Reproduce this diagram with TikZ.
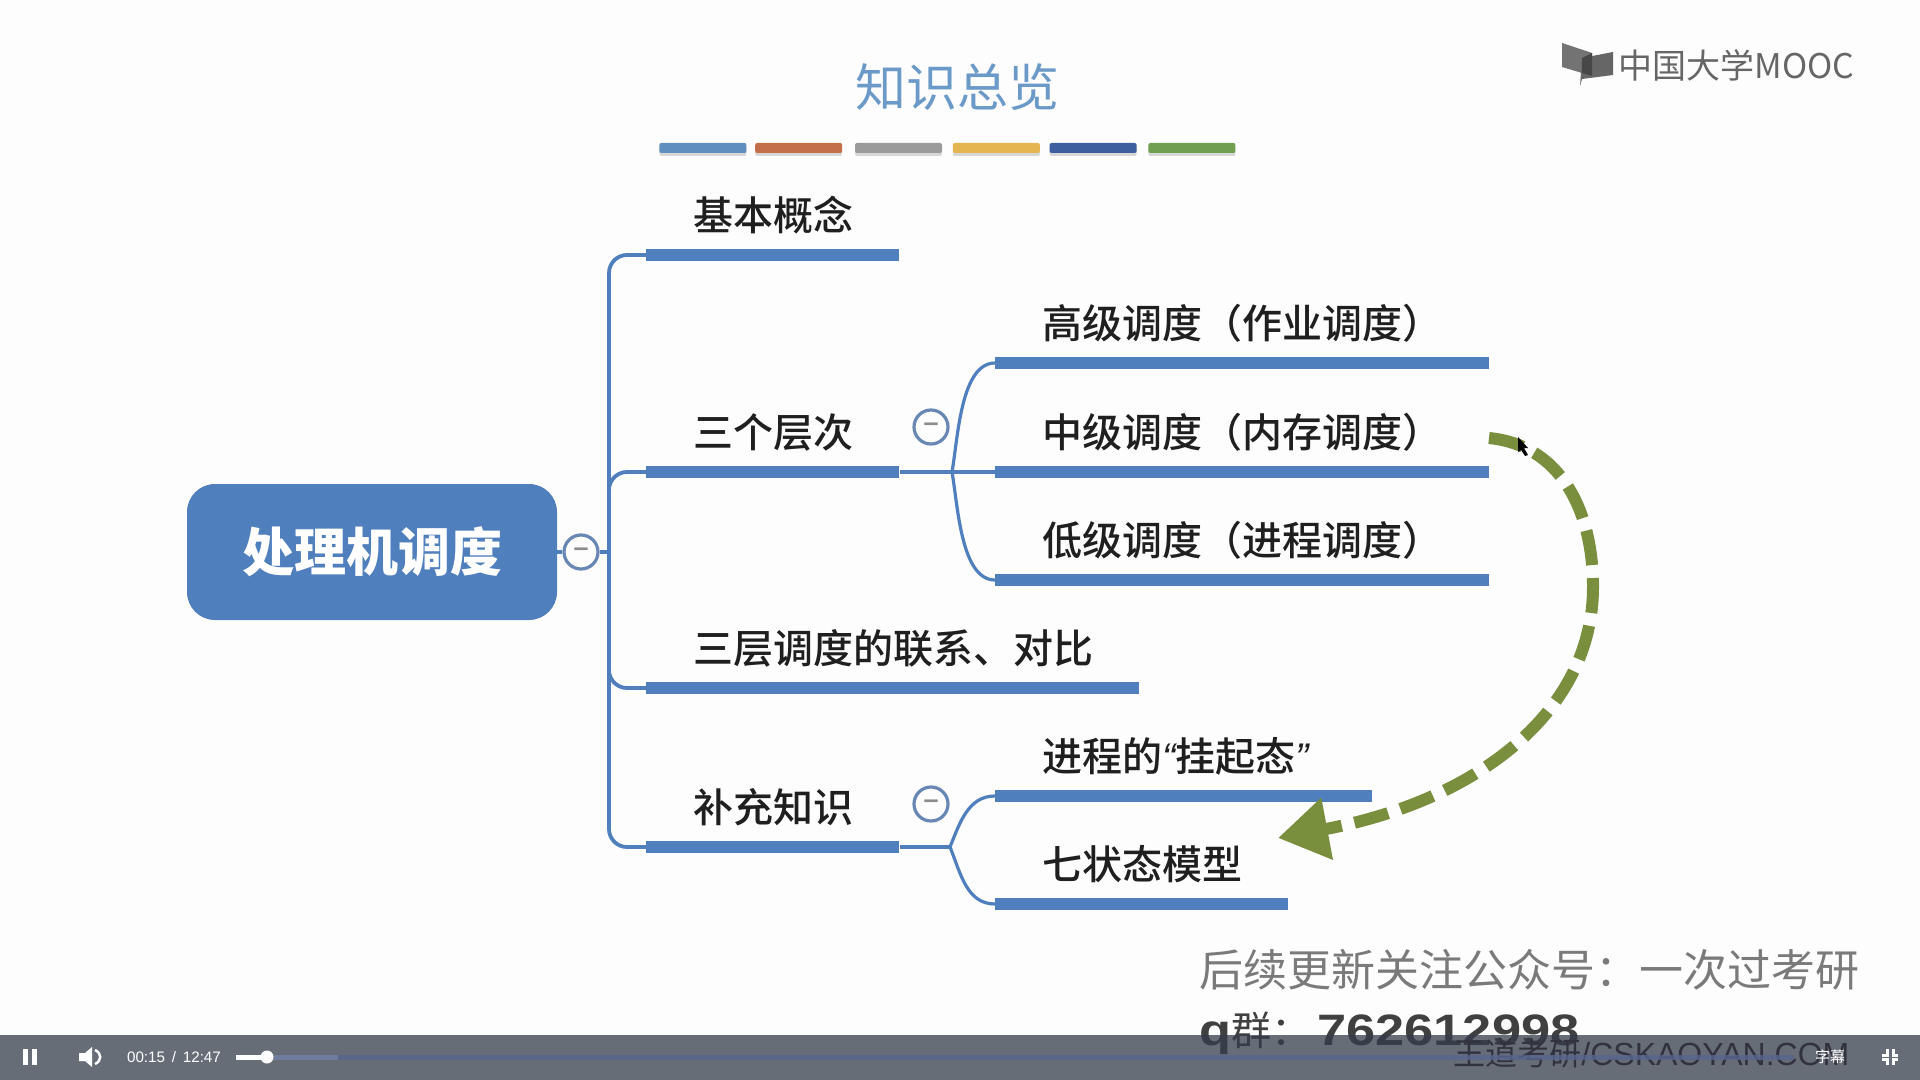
\documentclass[tikz,border=0pt]{standalone}
\usepackage{fontspec}
\setmainfont{Noto Sans CJK SC}
\newfontfamily\itemfont{Noto Sans CJK SC Medium}
\newfontfamily\numfont[FakeStretch=1.19]{Liberation Sans}
\newfontfamily\barfont{Liberation Sans}
\usetikzlibrary{positioning,arrows.meta,shadows}
\definecolor{mBlue}{RGB}{79,127,189}
\definecolor{mFold}{RGB}{105,135,180}
\definecolor{mOlive}{RGB}{122,143,62}
\definecolor{mTitle}{RGB}{108,154,200}
\definecolor{mPlayer}{RGB}{53,61,75}
\definecolor{mPaper}{RGB}{253,253,253}
\newcommand{\foldmark}{\raisebox{-1.4pt}{–}}
\tikzstyle{link} = [draw=mBlue,line width=1.9pt,fill=none]
\tikzstyle{jump} = [draw=mOlive,line width=6pt,dash pattern=on 17.5pt off 6.5pt,
  -{Triangle[length=25pt,width=30pt]}]

\begin{document}
\begin{tikzpicture}[
    x=0.5pt,y=-0.5pt,
    stripe/.style={
      minimum width=43.5pt,
      minimum height=5pt,
      inner sep=0pt,
      rounded corners=1pt,
      drop shadow={shadow xshift=0pt,shadow yshift=-1.5pt,opacity=.3},
    },
    rootbox/.style={
      fill=mBlue,
      rounded corners=14pt,
      minimum width=185pt,
      minimum height=68pt,
      text=white,
      font=\fontsize{26}{30}\selectfont\bfseries,
    },
    fold/.style={
      draw=mFold,
      circle,
      line width=1.6pt,
      fill=mPaper,
      minimum size=17pt,
      inner sep=0pt,
      text=black!45,
      font=\barfont\bfseries\fontsize{13.5}{13.5}\selectfont,
    },
    bar/.style={
      fill=mBlue,
      anchor=west,
      minimum height=6pt,
      inner sep=0pt,
    },
    itemtext/.style={
      font=\itemfont\fontsize{20}{24}\selectfont,
      text=black!88,
      inner sep=0pt,
    },
    over/.style={above right=20pt and 23.5pt of #1,anchor=west},
    marktext/.style={font=\fontsize{22}{26}\selectfont,text=black!52,inner sep=0pt,anchor=west},
    ctrltext/.style={font=\barfont\fontsize{7.6}{9}\selectfont,text=white,inner sep=0pt},
  ]

  \useasboundingbox (0,0) rectangle (1920,1080);
  \fill[mPaper] (0,0) rectangle (1920,1080);

  % title
  \node[font=\fontsize{25.5}{30}\selectfont,text=mTitle,inner sep=0pt] (title) at (957,87) {知识总览};
  \node[stripe,fill={rgb,255:red,94;green,143;blue,191},anchor=west] (s1) at (659,148) {};
  \node[stripe,fill={rgb,255:red,197;green,111;blue,74},right=4pt of s1] (s2) {};
  \node[stripe,fill={rgb,255:red,155;green,155;blue,155},right=6pt of s2] (s3) {};
  \node[stripe,fill={rgb,255:red,229;green,181;blue,82},right=5pt of s3] (s4) {};
  \node[stripe,fill={rgb,255:red,61;green,95;blue,159},right=4.5pt of s4] (s5) {};
  \node[stripe,fill={rgb,255:red,111;green,159;blue,79},right=5.5pt of s5] (s6) {};

  % logo
  \fill[black!55] (1562,43) -- (1592,53) -- (1592,76) -- (1562,67) -- cycle;
  \fill[black!60] (1582,58) -- (1613,52) -- (1613,75) -- (1582,79) -- (1580,86) -- cycle;
  \fill[black!72] (1582,58) -- (1592,53) -- (1592,76) -- (1582,73) -- cycle;
  \node[font=\fontsize{17}{20}\selectfont,text=black!60,inner sep=0pt,anchor=west] (logo) at (1618,65) {中国大学MOOC};

  % root
  \node[rootbox] (root) at (372,552) {\raisebox{-3.2pt}{处理机调度}};
  \node[fold,right=2.5pt of root] (rootfold) {\foldmark};
  \coordinate (trunk) at (609,552);

  % first level
  \node[bar,minimum width=126.5pt] (basic) at (646,255) {};
  \node[bar,minimum width=126.5pt] (levels) at (646,472) {};
  \node[bar,minimum width=246.5pt] (compare) at (646,688) {};
  \node[bar,minimum width=126.5pt] (extra) at (646,847) {};
  \node[itemtext,over=basic.west] (basictext) {基本概念};
  \node[itemtext,over=levels.west] (levelstext) {三个层次};
  \node[itemtext,over=compare.west] (comparetext) {三层调度的联系、对比};
  \node[itemtext,over=extra.west] (extratext) {补充知识};

  % second level
  \node[bar,minimum width=247pt] (high) at (995,363) {};
  \node[bar,minimum width=247pt] (mid) at (995,472) {};
  \node[bar,minimum width=247pt] (low) at (995,580) {};
  \node[bar,minimum width=188.5pt] (suspend) at (995,796) {};
  \node[bar,minimum width=146.5pt] (seven) at (995,904) {};
  \node[itemtext,over=high.west] (hightext) {高级调度（作业调度）};
  \node[itemtext,over=mid.west] (midtext) {中级调度（内存调度）};
  \node[itemtext,over=low.west] (lowtext) {低级调度（进程调度）};
  \node[itemtext,over=suspend.west] (suspendtext) {进程的{\barfont\itshape “}挂起态{\barfont\itshape ”}};
  \node[itemtext,over=seven.west] (seventext) {七状态模型};

  \coordinate (levelfork) at (952,472);
  \coordinate (extrafork) at (950,847);

  \draw[link] (root) -- (rootfold);
  \draw[link] (rootfold) -- (trunk);
  \draw[link,rounded corners=9pt] (trunk) |- (basic.west);
  \draw[link,rounded corners=9pt] (trunk) |- (levels.west);
  \draw[link,rounded corners=9pt] (trunk) |- (compare.west);
  \draw[link,rounded corners=9pt] (trunk) |- (extra.west);

  \draw[link,line width=1.6pt] (levels.east) -- (mid.west);
  \draw[link,line width=1.6pt] (levelfork) to[out=80,in=180,looseness=.75] (high.west);
  \draw[link,line width=1.6pt] (levelfork) to[out=-80,in=180,looseness=.75] (low.west);
  \draw[link,line width=1.6pt] (extra.east) -- (extrafork);
  \draw[link,line width=1.6pt] (extrafork) to[out=68,in=180] (suspend.west);
  \draw[link,line width=1.6pt] (extrafork) to[out=-68,in=180] (seven.west);

  \node[fold] (levelsfold) at (931,427) {\foldmark};
  \node[fold] (extrafold) at (931,804) {\foldmark};

  % jump
  \coordinate (jumpfrom) at (1489,438);
  \coordinate (jumpside) at (1593,587);
  \coordinate (jumpto) at (1278,838);
  \draw[jump] (jumpfrom) .. controls (1560,445) and (1593,510) .. (jumpside)
     .. controls (1593,710) and (1480,800) .. (jumpto);
  \fill[black] (1518,437) -- (1528,448) -- (1524,448) -- (1528,455) -- (1525,456)
     -- (1521,450) -- (1518,452) -- cycle;

  % watermarks, under the player
  \node[marktext] (follow) at (1199,970) {后续更新关注公众号：一次过考研};
  \node[inner sep=0pt,anchor=west,text=black!75] (group) at (1199,1033)
     {\numfont\bfseries\fontsize{22}{26}\selectfont q{\mdseries\normalfont\fontsize{20}{24}\selectfont 群：}\hspace{3pt}762612998};
  \node[inner sep=0pt,anchor=west,text={rgb,255:red,45;green,20;blue,25}] (site) at (1453,1053)
     {\fontsize{16}{20}\selectfont 王道考研{\barfont /CSKAOYAN.COM}};

  % player
  \fill[mPlayer,opacity=.75] (0,1035) rectangle (1920,1080);
  \coordinate (trackfrom) at (236,1057);
  \coordinate (trackknob) at (267,1057);
  \coordinate (trackload) at (338,1057);
  \coordinate (trackend) at (1794,1057);
  \draw[line width=2.5pt,draw={rgb,255:red,88;green,102;blue,140},opacity=.8] (trackknob) -- (trackend);
  \draw[line width=2.5pt,draw={rgb,255:red,110;green,125;blue,155}] (trackknob) -- (trackload);
  \draw[line width=2.5pt,white] (trackfrom) -- (trackknob);
  \fill[white] (trackknob) circle[radius=6.5];
  \fill[white] (23,1049) rectangle (28,1065);
  \fill[white] (32,1049) rectangle (37,1065);
  \fill[white] (79,1053) -- (85,1053) -- (92,1047) -- (92,1067) -- (85,1061) -- (79,1061) -- cycle;
  \draw[white,line width=1.2pt] (95,1050) .. controls (102,1053) and (102,1061) .. (95,1064);
  \node[ctrltext] (clock) at (174,1057) {00:15\, /\, 12:47};
  \node[ctrltext,font=\fontsize{7.5}{9}\selectfont] (caption) at (1830,1057) {字幕};
  \draw[white,line width=1.5pt] (1882,1055) -- (1887,1055) -- (1887,1049);
  \draw[white,line width=1.5pt] (1898,1055) -- (1893,1055) -- (1893,1049);
  \draw[white,line width=1.5pt] (1882,1059) -- (1887,1059) -- (1887,1065);
  \draw[white,line width=1.5pt] (1898,1059) -- (1893,1059) -- (1893,1065);

\end{tikzpicture}
\end{document}
